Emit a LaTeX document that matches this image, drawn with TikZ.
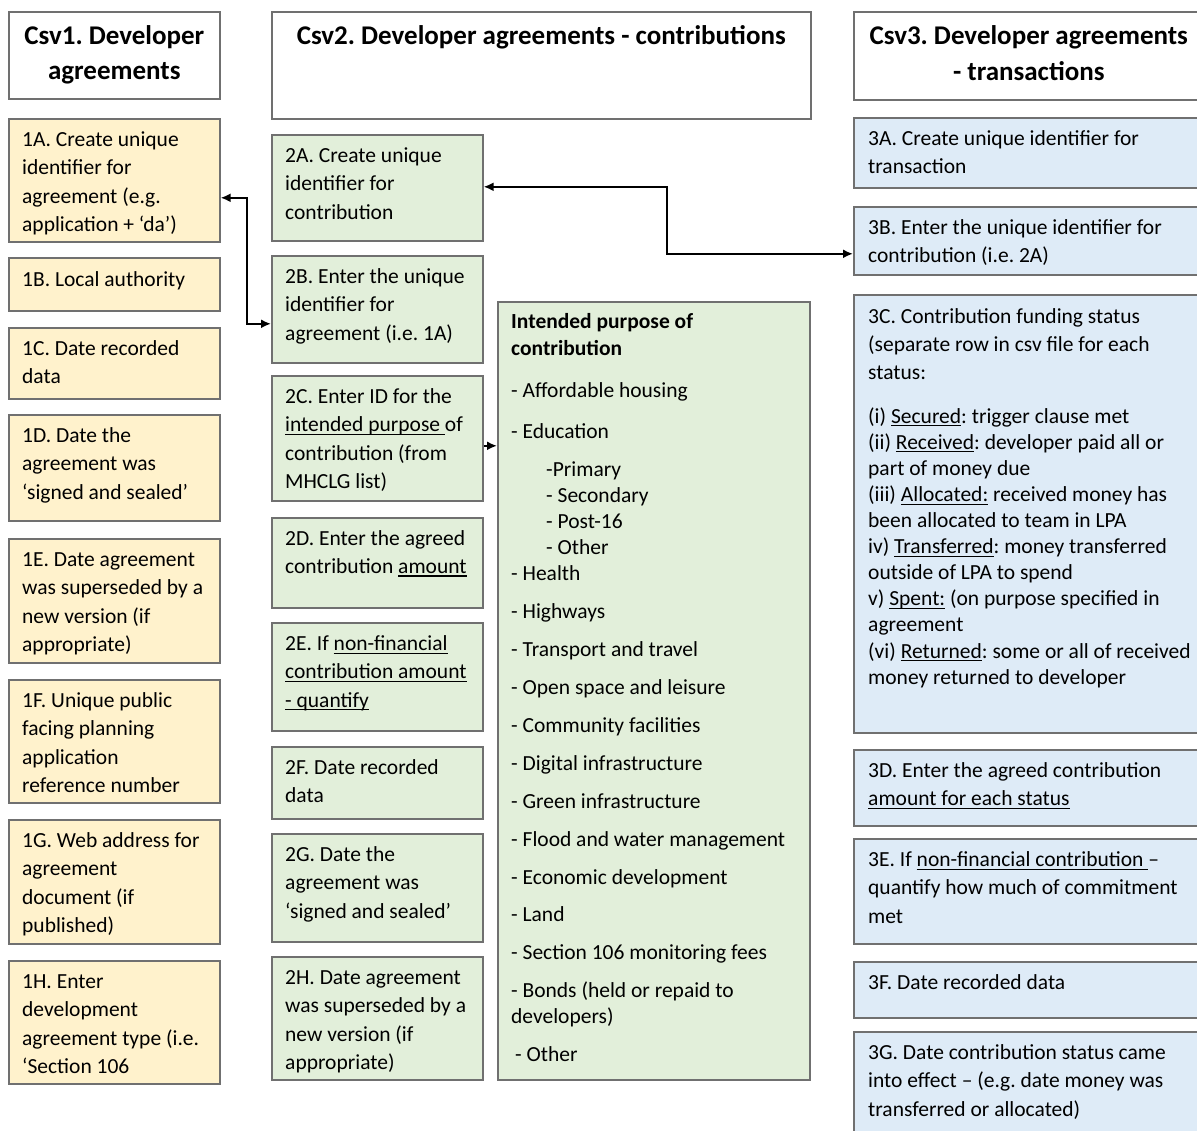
\documentclass[tikz,border=0pt]{standalone}
\usepackage{fontspec}
\setmainfont{Carlito}
\usetikzlibrary{arrows.meta}
\definecolor{orangefill}{HTML}{FFF2CC}
\definecolor{greenfill}{HTML}{E2EFDA}
\definecolor{bluefill}{HTML}{DEEBF7}
\definecolor{boxline}{HTML}{707070}
\frenchspacing
\newlength\ulw
\newcommand\uln[1]{\settowidth\ulw{#1}\rlap{\rule[-3.2pt]{\ulw}{1.1pt}}#1}
\newcommand\bx[6]{\node[#6, minimum width=#4pt, minimum height=#5pt, anchor=north west] (#1) at (#2,#3) {};}
\begin{document}
\begin{tikzpicture}[x=1pt,y=-1pt,
  box/.style={draw=boxline, line width=1.6pt, inner sep=0pt},
  hdr/.style={box, fill=white},
  orng/.style={box, fill=orangefill},
  grn/.style={box, fill=greenfill},
  blu/.style={box, fill=bluefill},
  txt/.style={anchor=north west, inner sep=0pt, align=left, font=\fontsize{21.5}{28.3}\selectfont},
  txtb/.style={anchor=north west, inner sep=0pt, align=left, font=\fontsize{21.5}{26.1}\selectfont},
  htxt/.style={anchor=north, inner sep=0pt, align=center, font=\fontsize{27}{35.7}\selectfont\bfseries},
  conn/.style={line width=2.2pt, black},
  tip/.tip={Latex[length=10pt,width=9pt]}
]
\useasboundingbox (0,0) rectangle (1197,1131);
\fill[white] (0,0) rectangle (1197,1131);
\clip (0,0) rectangle (1197,1131);

% ---------- column 1 ----------
\bx{h1}{8}{11}{211}{87}{hdr}
\bx{n1A}{8}{118}{211}{123}{orng}
\bx{n1B}{8}{257}{211}{53}{orng}
\bx{n1C}{8}{327}{211}{71}{orng}
\bx{n1D}{8}{414}{211}{106}{orng}
\bx{n1E}{8}{538}{211}{124}{orng}
\bx{n1F}{8}{679}{211}{123}{orng}
\bx{n1G}{8}{819}{211}{124}{orng}
\bx{n1H}{8}{960}{211}{123}{orng}

\node[htxt] (th1) at ([yshift=-8pt]h1.north) {\strut Csv1. Developer\\agreements};
\node[txt] (t1A) at ([xshift=14pt,yshift=-8.5pt]n1A.north west) {\strut 1A. Create unique\\identifier for\\agreement (e.g.\\application + ‘da’)};
\node[txt] (t1B) at ([xshift=14pt,yshift=-9pt]n1B.north west) {\strut 1B. Local authority};
\node[txt] (t1C) at ([xshift=14pt,yshift=-8.5pt]n1C.north west) {\strut 1C. Date recorded\\data};
\node[txt] (t1D) at ([xshift=14pt,yshift=-8.5pt]n1D.north west) {\strut 1D. Date the\\agreement was\\‘signed and sealed’};
\node[txt] (t1E) at ([xshift=14pt,yshift=-8.5pt]n1E.north west) {\strut 1E. Date agreement\\was superseded by a\\new version (if\\appropriate)};
\node[txt] (t1F) at ([xshift=14pt,yshift=-8.5pt]n1F.north west) {\strut 1F. Unique public\\facing planning\\application\\reference number};
\node[txt] (t1G) at ([xshift=14pt,yshift=-8.5pt]n1G.north west) {\strut 1G. Web address for\\agreement\\document (if\\published)};
\node[txt] (t1H) at ([xshift=14pt,yshift=-8.5pt]n1H.north west) {\strut 1H. Enter\\development\\agreement type (i.e.\\‘Section 106};

% ---------- column 2 ----------
\bx{h2}{271}{11}{539}{107}{hdr}
\bx{n2A}{271}{134}{211}{106}{grn}
\bx{n2B}{271}{255}{211}{107}{grn}
\bx{n2C}{271}{375}{211}{125}{grn}
\bx{n2D}{271}{517}{211}{90}{grn}
\bx{n2E}{271}{622}{211}{108}{grn}
\bx{n2F}{271}{746}{211}{72}{grn}
\bx{n2G}{271}{833}{211}{108}{grn}
\bx{n2H}{271}{956}{211}{123}{grn}
\bx{nP}{497}{301}{312}{778}{grn}

\node[htxt] (th2) at ([yshift=-8pt]h2.north) {\strut Csv2. Developer agreements - contributions};
\node[txt] (t2A) at ([xshift=14pt,yshift=-8.5pt]n2A.north west) {\strut 2A. Create unique\\identifier for\\contribution};
\node[txt] (t2B) at ([xshift=14pt,yshift=-8.5pt]n2B.north west) {\strut 2B. Enter the unique\\identifier for\\agreement (i.e. 1A)};
\node[txt] (t2C) at ([xshift=14pt,yshift=-8.5pt]n2C.north west) {\strut 2C. Enter ID for the\\\uln{intended purpose }of\\contribution (from\\MHCLG list)};
\node[txt] (t2D) at ([xshift=14pt,yshift=-8pt]n2D.north west) {\strut 2D. Enter the agreed\\contribution \uln{amount}};
\node[txt] (t2E) at ([xshift=14pt,yshift=-8.5pt]n2E.north west) {\strut 2E. If \uln{non-financial}\\\uln{contribution amount}\\\uln{- quantify}};
\node[txt] (t2F) at ([xshift=14pt,yshift=-8.5pt]n2F.north west) {\strut 2F. Date recorded\\data};
\node[txt] (t2G) at ([xshift=14pt,yshift=-8.5pt]n2G.north west) {\strut 2G. Date the\\agreement was\\‘signed and sealed’};
\node[txt] (t2H) at ([xshift=14pt,yshift=-8.5pt]n2H.north west) {\strut 2H. Date agreement\\was superseded by a\\new version (if\\appropriate)};

\node[txtb] (tP) at ([xshift=14pt,yshift=-8.7pt]nP.north west) {\strut\textbf{Intended purpose of}\\[0.9pt]
\textbf{contribution}\\[15.9pt]
- Affordable housing\\[14.9pt]
- Education\\[11.9pt]
\hspace*{35pt}-Primary\\
\hspace*{35pt}- Secondary\\
\hspace*{35pt}- Post-16\\
\hspace*{35pt}- Other\\
- Health\\[11.4pt]
- Highways\\[11.9pt]
- Transport and travel\\[11.9pt]
- Open space and leisure\\[11.9pt]
- Community facilities\\[11.9pt]
- Digital infrastructure\\[11.9pt]
- Green infrastructure\\[11.9pt]
- Flood and water management\\[11.9pt]
- Economic development\\[11.4pt]
- Land\\[11.9pt]
- Section 106 monitoring fees\\[11.9pt]
- Bonds (held or repaid to\\
developers)\\[11.4pt]
\hspace*{4pt}- Other};

% ---------- column 3 ----------
\bx{h3}{853}{11}{350}{88}{hdr}
\bx{n3A}{853}{117}{350}{70}{blu}
\bx{n3B}{853}{206}{350}{68}{blu}
\bx{n3C}{853}{294}{350}{438}{blu}
\bx{n3D}{853}{749}{350}{76}{blu}
\bx{n3E}{853}{838}{350}{105}{blu}
\bx{n3F}{853}{961}{350}{56}{blu}
\bx{n3G}{853}{1031}{350}{115}{blu}

\node[htxt] (th3) at ([yshift=-8.5pt]h3.north) {\strut Csv3. Developer agreements\\- transactions};
\node[txt] (t3A) at ([xshift=15pt,yshift=-8.5pt]n3A.north west) {\strut 3A. Create unique identifier for\\transaction};
\node[txt] (t3B) at ([xshift=15pt,yshift=-8.5pt]n3B.north west) {\strut 3B. Enter the unique identifier for\\contribution (i.e. 2A)};
\node[txtb] (t3C) at ([xshift=15pt,yshift=-10.7pt]n3C.north west) {\strut 3C. Contribution funding status\\[1.9pt]
(separate row in csv file for each\\[1.9pt]
status:\\[17.9pt]
(i) \uln{Secured}: trigger clause met\\
(ii) \uln{Received}: developer paid all or\\
part of money due\\
(iii) \uln{Allocated:} received money has\\
been allocated to team in LPA\\
iv) \uln{Transferred}: money transferred\\
outside of LPA to spend\\
v) \uln{Spent:} (on purpose specified in\\
agreement\\
(vi) \uln{Returned}: some or all of received\\
money returned to developer};
\node[txt] (t3D) at ([xshift=15pt,yshift=-8.5pt]n3D.north west) {\strut 3D. Enter the agreed contribution\\\uln{amount for each status}};
\node[txt] (t3E) at ([xshift=15pt,yshift=-8.5pt]n3E.north west) {\strut 3E. If \uln{non-financial contribution }–\\quantify how much of commitment\\met};
\node[txt] (t3F) at ([xshift=15pt,yshift=-8.5pt]n3F.north west) {\strut 3F. Date recorded data};
\node[txt] (t3G) at ([xshift=15pt,yshift=-8.5pt]n3G.north west) {\strut 3G. Date contribution status came\\into effect – (e.g. date money was\\transferred or allocated)};

% ---------- connectors ----------
\draw[conn, tip-tip] ([yshift=-17.5pt]n1A.east) -- ++(26,0) |- ([yshift=-14.5pt]n2B.west);
\draw[conn, tip-tip] ([yshift=1pt]n2A.east) -- ++(183,0) |- ([yshift=-13pt]n3B.west);
\draw[conn, -tip] ([yshift=-7.5pt]n2C.east) -- ([yshift=-7.5pt]n2C.east -| nP.west);
\end{tikzpicture}
\end{document}
